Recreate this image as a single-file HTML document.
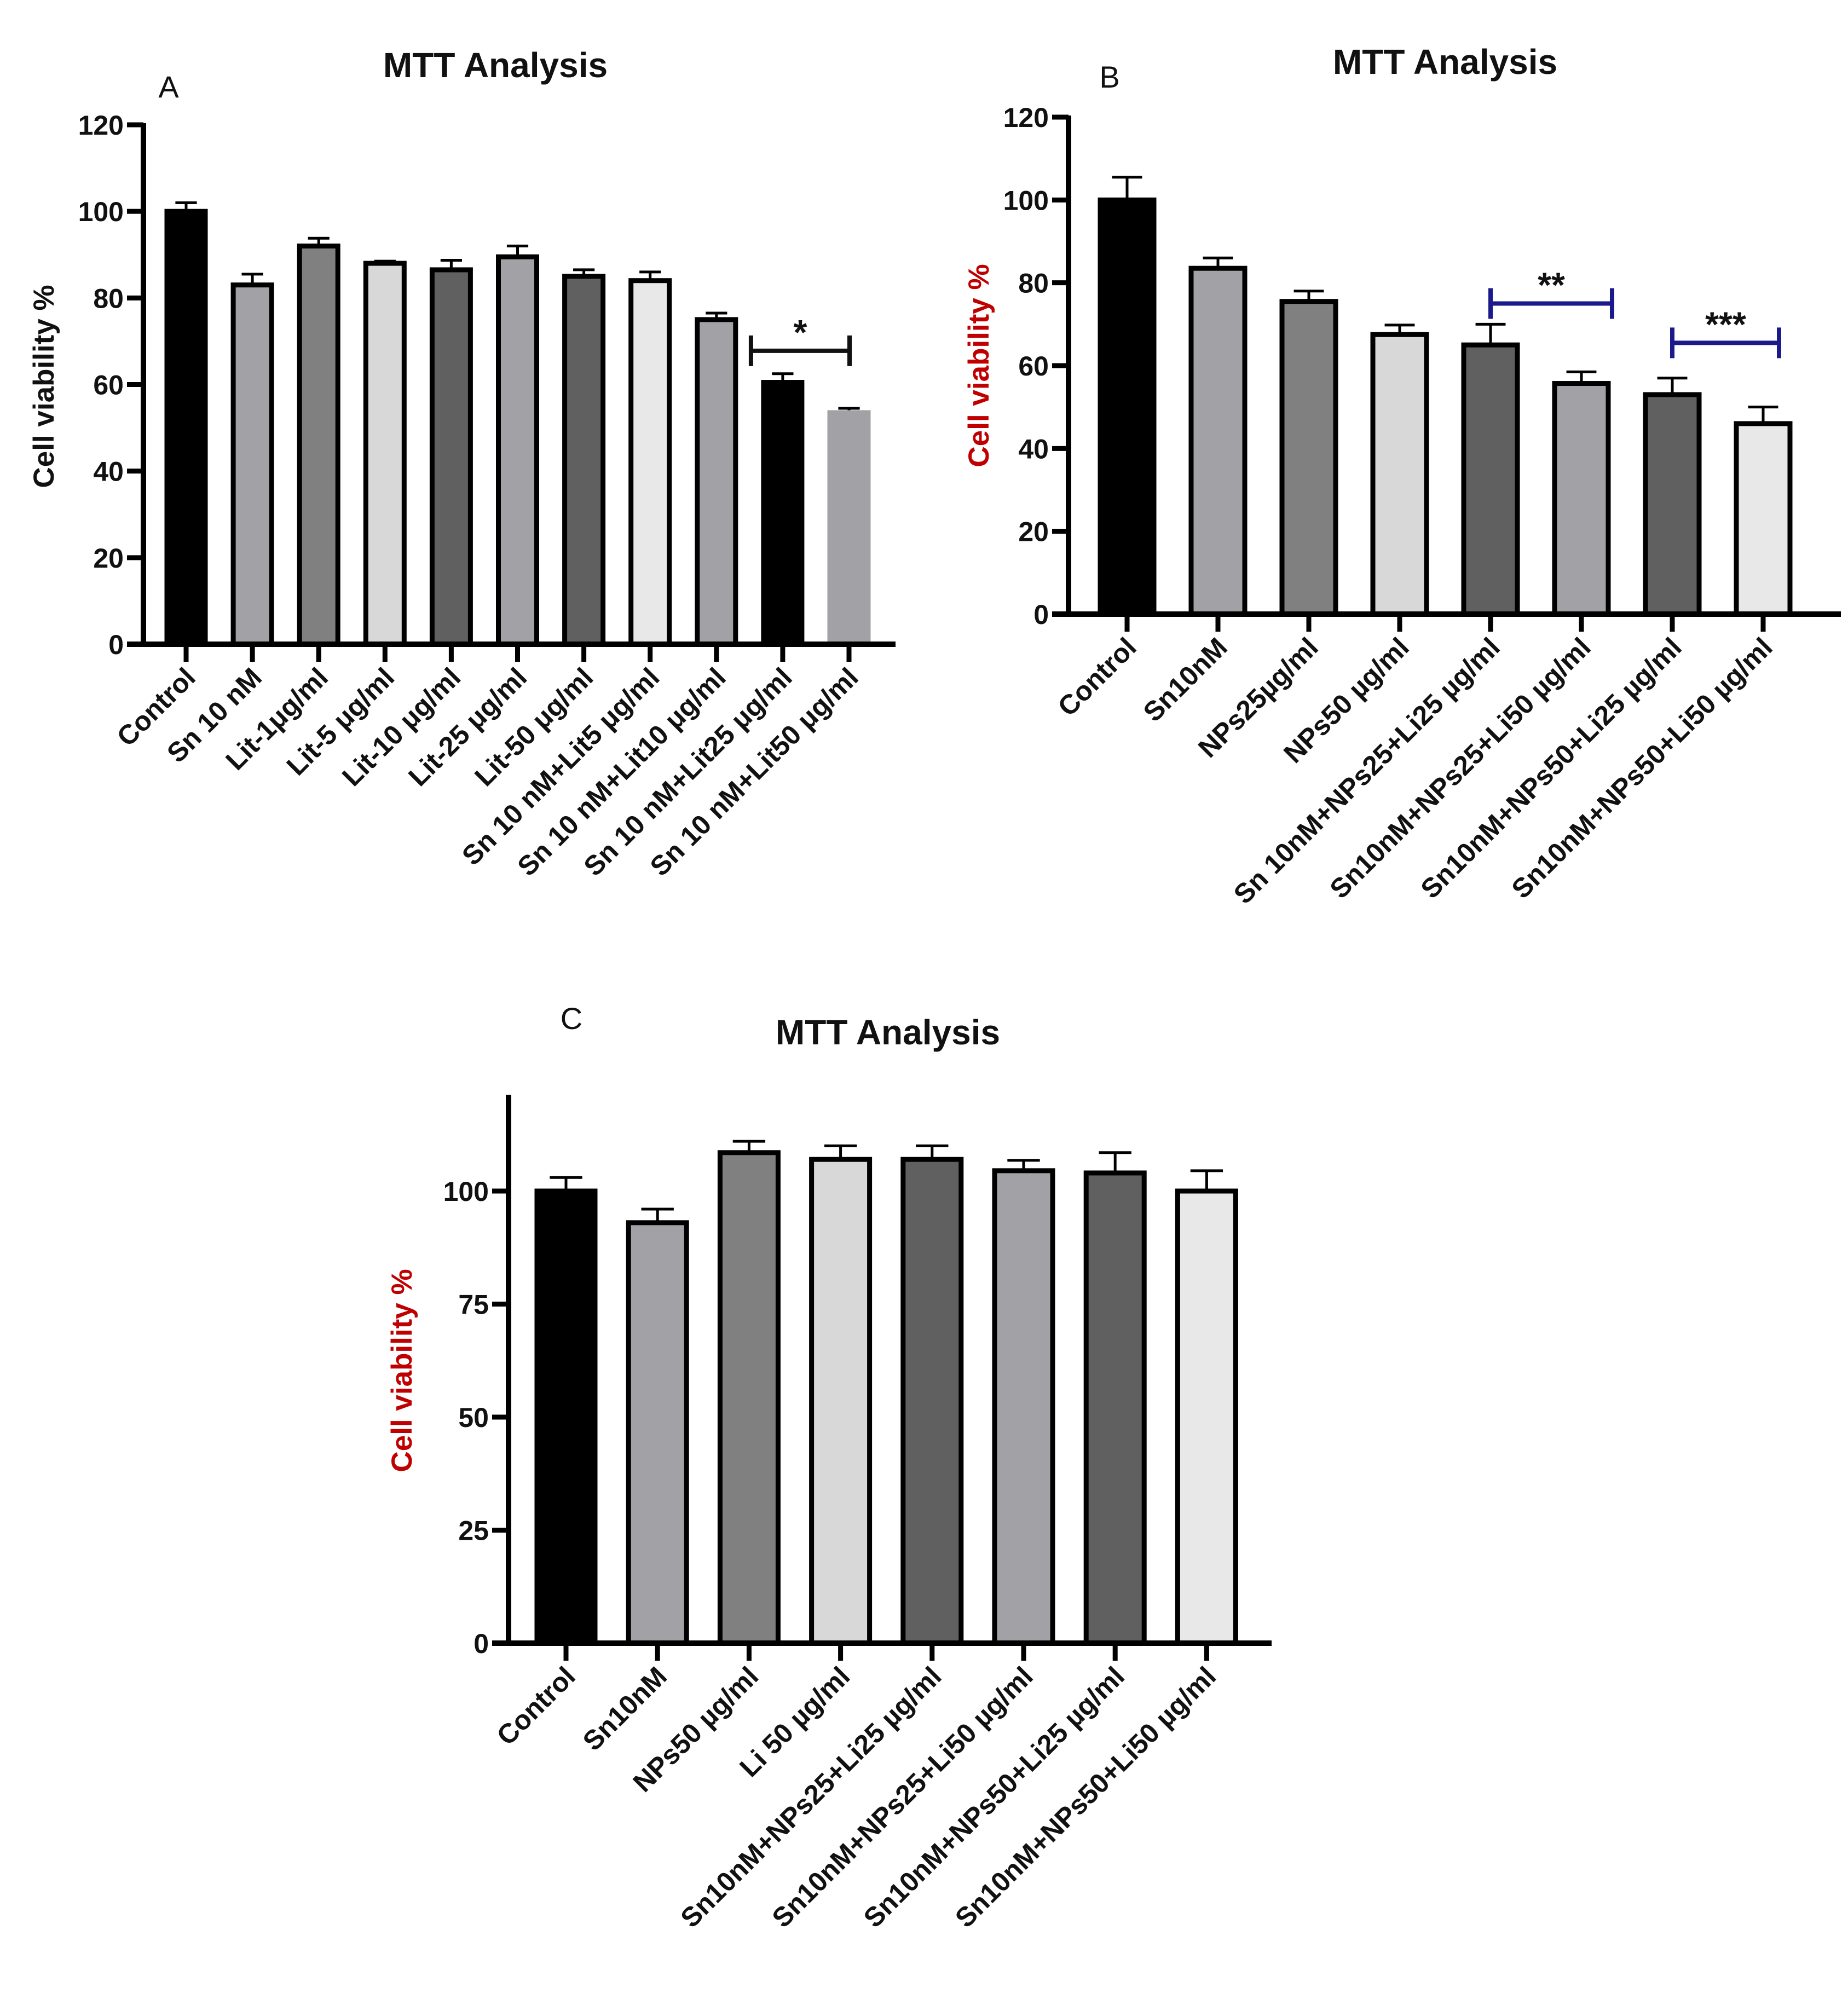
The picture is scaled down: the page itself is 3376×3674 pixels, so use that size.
<!DOCTYPE html>
<html><head><meta charset="utf-8">
<style>
html,body{margin:0;padding:0;background:#fff;}
svg{display:block;}
text{font-family:"Liberation Sans",Arial,sans-serif;}
</style></head>
<body>
<svg id="fig" width="3376" height="3674" viewBox="0 0 3376 3674" xmlns="http://www.w3.org/2000/svg">
<rect x="0" y="0" width="3376" height="3674" fill="#fff"/>
</svg>
<script>
// Panel A data
const catsA = ["Control","Sn 10 nM","Lit-1\u03bcg/ml","Lit-5 \u03bcg/ml","Lit-10 \u03bcg/ml","Lit-25 \u03bcg/ml","Lit-50 \u03bcg/ml","Sn 10 nM+Lit5 \u03bcg/ml","Sn 10 nM+Lit10 \u03bcg/ml","Sn 10 nM+Lit25 \u03bcg/ml","Sn 10 nM+Lit50 \u03bcg/ml"];
const valsA = [100,83,92,88,86.5,89.5,85,84,75,60.5,53.5];
const errA = [102,85.5,93.8,88.5,88.7,92,86.5,86,76.5,62.5,54.5];
const ticksA = [0,20,40,60,80,100,120];
// Panel B data
const catsB = ["Control","Sn10nM","NPs25\u00b5g/ml","NPs50 \u00b5g/ml","Sn 10nM+NPs25+Li25 \u00b5g/ml","Sn10nM+NPs25+Li50 \u00b5g/ml","Sn10nM+NPs50+Li25 \u00b5g/ml","Sn10nM+NPs50+Li50 \u00b5g/ml"];
const valsB = [100,83.5,75.5,67.5,65,55.7,53,46];
const errB = [105.5,86,78,69.8,70,58.5,57,50];
const ticksB = [0,20,40,60,80,100,120];
// Panel C data
const catsC = ["Control","Sn10nM","NPs50 \u00b5g/ml","Li 50 \u00b5g/ml","Sn10nM+NPs25+Li25 \u00b5g/ml","Sn10nM+NPs25+Li50 \u00b5g/ml","Sn10nM+NPs50+Li25 \u00b5g/ml","Sn10nM+NPs50+Li50 \u00b5g/ml"];
const valsC = [100,93,108.5,107,107,104.5,104,100];
const errC = [103,96,111,110,110,106.8,108.5,104.5];
const ticksC = [0,25,50,75,100];

const NS="http://www.w3.org/2000/svg";
const svg=document.getElementById('fig');
function el(tag,attrs,parent,txt){const e=document.createElementNS(NS,tag);for(const k in attrs)e.setAttribute(k,attrs[k]);if(txt!==undefined)e.textContent=txt;(parent||svg).appendChild(e);return e;}

function panel(o){
  const g=el('g',{});
  
  
  const y=v=>o.y0-(v/o.ymax)*(o.y0-o.ytop);
  const x=i=>o.x0+i*o.step;
  const t=el('text',{x:o.titleX,y:o.titleY,'font-size':64,'font-weight':'bold','text-anchor':'middle',fill:'#111'},g,'MTT Analysis');
  
  
  const l=el('text',{x:o.letterX,y:o.letterY,'font-size':56,'text-anchor':'middle',fill:'#111'},g,o.letter);
  
  
  o.vals.forEach((v,i)=>{
    const cx=x(i), w=o.bw;
    const e1=el('line',{x1:cx,x2:cx,y1:y(v),y2:y(o.errs[i]),stroke:'#000','stroke-width':5},g);
    
    
    el('line',{x1:cx-w*0.28,x2:cx+w*0.28,y1:y(o.errs[i]),y2:y(o.errs[i]),stroke:'#000','stroke-width':5},g);
    const noBorder=o.noBorder&&o.noBorder.includes(i);
    const r=el('rect',{x:cx-w/2,y:y(v),width:w,height:o.y0-y(v),fill:o.colors[i],stroke:noBorder?o.colors[i]:'#000','stroke-width':9},g);
    
    
    el('line',{x1:cx,x2:cx,y1:o.y0,y2:o.y0+32,stroke:'#000','stroke-width':9},g);
    const lab=el('text',{x:0,y:0,'font-size':50,'font-weight':'bold','text-anchor':'end',fill:'#111',transform:`translate(${cx+20},${o.y0+64}) rotate(-45)`},g,o.cats[i]);
    
    
  });
  const ya=el('line',{x1:o.ax,x2:o.ax,y1:o.ytopAxis,y2:o.y0+5,stroke:'#000','stroke-width':10},g);
  
  
  const xa=el('line',{x1:o.ax-30,x2:o.xend,y1:o.y0,y2:o.y0,stroke:'#000','stroke-width':10},g);
  
  
  o.ticks.forEach(tv=>{
    el('line',{x1:o.ax-30,x2:o.ax,y1:y(tv),y2:y(tv),stroke:'#000','stroke-width':9},g);
    const tl=el('text',{x:o.ax-36,y:y(tv)+18,'font-size':50,'font-weight':'bold','text-anchor':'end',fill:'#111'},g,String(tv));
    
    
  });
  const yl=el('text',{x:0,y:0,'font-size':53,'font-weight':'bold','text-anchor':'middle',fill:o.ylColor,transform:`translate(${o.ylX},${o.ylY}) rotate(-90)`},g,'Cell viability %');
  
  
  (o.sig||[]).forEach(s=>{
    const x1=x(s.a)+(s.da||0), x2=x(s.b)+(s.db||0), yy=y(s.v);
    const sl=el('line',{x1:x1,x2:x2,y1:yy,y2:yy,stroke:s.c,'stroke-width':8},g);
    
    
    el('line',{x1:x1,x2:x1,y1:yy-28,y2:yy+28,stroke:s.c,'stroke-width':8},g);
    el('line',{x1:x2,x2:x2,y1:yy-28,y2:yy+28,stroke:s.c,'stroke-width':8},g);
    const st=el('text',{x:(x1+x2)/2,y:yy-12,'font-size':64,'font-weight':'bold','text-anchor':'middle',fill:'#111'},g,s.t);
    
    
  });
}
const L='#a2a2a6',M='#808080',LL='#d8d8d8',D='#606060',W='#e8e8e8';
panel({name:'panel-a',cats:catsA,vals:valsA,errs:errA,ticks:ticksA,ymax:120,y0:1177,ytop:228,ytopAxis:225,ax:262,xend:1636,x0:340,step:121.1,bw:70,
  colors:['#000',L,M,LL,D,L,D,W,L,'#000',L],noBorder:[10],
  titleX:905,titleY:141,letter:'A',letterX:308,letterY:178,ylX:98,ylY:706,ylColor:'#111',
  sig:[{a:9,b:10,da:-58,db:1,v:67.8,c:'#111',t:'*'}]});
panel({name:'panel-b',cats:catsB,vals:valsB,errs:errB,ticks:ticksB,ymax:120,y0:1122,ytop:214,ytopAxis:211,ax:1952,xend:3363,x0:2059,step:166,bw:98,
  colors:['#000',L,M,LL,D,L,D,W],
  titleX:2640,titleY:135,letter:'B',letterX:2027,letterY:160,ylX:1806,ylY:668,ylColor:'#c00000',
  sig:[{a:4,b:5,da:0,db:56,v:75,c:'#1a1a8c',t:'**'},{a:6,b:7,da:0,db:29,v:65.5,c:'#1a1a8c',t:'***'}]});
panel({name:'panel-c',cats:catsC,vals:valsC,errs:errC,ticks:ticksC,ymax:100,y0:3002,ytop:2176,ytopAxis:2000,ax:929,xend:2323,x0:1034,step:167.2,bw:106,
  colors:['#000',L,M,LL,D,L,D,W],
  titleX:1622,titleY:1908,letter:'C',letterX:1044,letterY:1880,ylX:752,ylY:2504,ylColor:'#c00000'});
</script>
</body></html>
